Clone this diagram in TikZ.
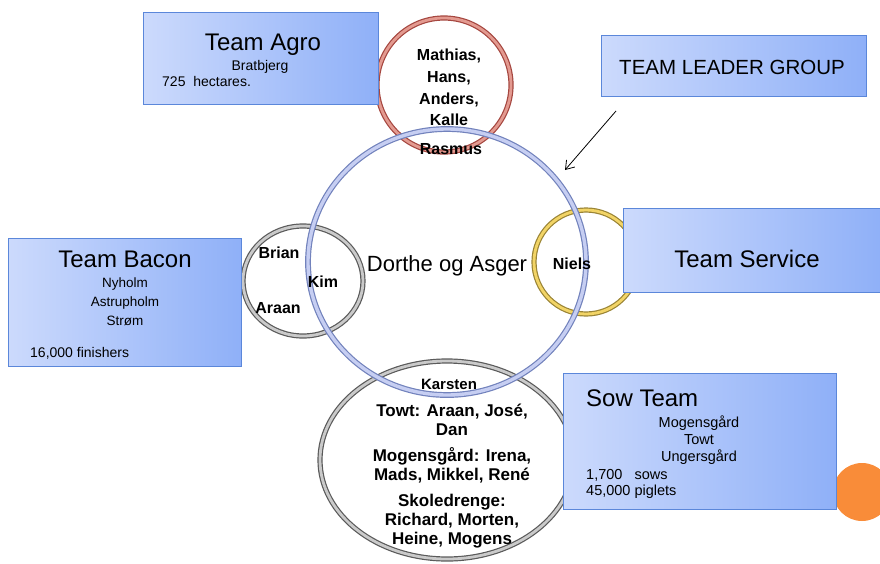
\documentclass[tikz,border=0pt]{standalone}
\usepackage{fontspec}
\setmainfont{Liberation Sans}
\usetikzlibrary{shapes.geometric,arrows.meta}
\definecolor{boxlight}{HTML}{CCDAFC}
\definecolor{boxdark}{HTML}{8FB0F8}
\definecolor{boxedge}{HTML}{5B87DA}
\definecolor{redouter}{HTML}{A5463F}
\definecolor{redinner}{HTML}{E39A90}
\definecolor{blueouter}{HTML}{7282BC}
\definecolor{blueinner}{HTML}{C6CEF2}
\definecolor{grayouter}{HTML}{5A5A5A}
\definecolor{grayinner}{HTML}{CACACA}
\definecolor{yellowouter}{HTML}{9A8435}
\definecolor{yellowinner}{HTML}{F2D466}
\definecolor{sowdot}{HTML}{F98C39}
\tikzset{
  ring/.style 2 args = {ellipse, draw=#1, double=#2, double distance=2.8pt,
                        line width=1.2pt, inner sep=0pt},
  teambox/.style = {draw=boxedge, line width=0.8pt, left color=boxlight,
                    right color=boxdark, inner sep=0pt},
  title/.style = {font=\fontsize{24}{28}\selectfont, inner sep=0pt},
  small/.style = {font=\fontsize{14}{17}\selectfont, inner sep=0pt, align=center},
  crew/.style = {font=\fontsize{16}{21.7}\selectfont\bfseries, inner sep=0pt, align=center},
  leadarrow/.style = {-{Straight Barb[length=8pt,width=11pt]}, line width=0.8pt}
}
\begin{document}
\begin{tikzpicture}[x=1pt,y=-1pt]
	\useasboundingbox (0,0) rectangle (880,563);
	
	% Rings
	\node[ring={grayouter}{grayinner}, minimum width=120pt, minimum height=110pt] (baconring) at (303,281) {};
	\node[ring={yellowouter}{yellowinner}, minimum size=104pt] (servicering) at (586,262) {};
	\node[ring={redouter}{redinner}, minimum size=134pt] (agroring) at (444,85) {};
	\node[ring={grayouter}{grayinner}, minimum width=254pt, minimum height=198pt] (sowring) at (447,460) {};
	\node[ring={blueouter}{blueinner}, line width=1.2pt, double distance=3.4pt, minimum width=278pt, minimum height=266pt] (corering) at (447,262) {};
	
	% Orange dot
	\node[circle, fill=sowdot, minimum size=58pt, inner sep=0pt] (sowdot) at (862,492) {};
	
	% Boxes
	\node[teambox, minimum width=235pt, minimum height=92pt] (agrobox) at (260.5,58) {};
	\node[teambox, minimum width=265pt, minimum height=61pt] (leadbox) at (733.5,65.5) {};
	\node[teambox, minimum width=233pt, minimum height=128pt] (baconbox) at (124.5,302) {};
	\node[teambox, minimum width=259pt, minimum height=84pt] (servicebox) at (752.5,250) {};
	\node[teambox, minimum width=273pt, minimum height=136pt] (sowbox) at (699.5,441) {};
	
	% Box texts
	\node[title, anchor=base] (agrotitle) at (263,50) {Team Agro};
	\node[small, anchor=base] (agrofarm) at (260,70) {Bratbjerg};
	\node[small, anchor=base west] (agroarea) at (162,86) {725~~hectares.};
	\node[font=\fontsize{20.5}{24}\selectfont, inner sep=0pt, anchor=base] (leadtitle) at (732,74) {TEAM LEADER GROUP};
	\node[title, anchor=base] (bacontitle) at (125,267) {Team Bacon};
	\node[small, font=\fontsize{13.5}{19}\selectfont] (baconfarms) at (125,302) {Nyholm\\Astrupholm\\Strøm};
	\node[small, anchor=base west] (baconcount) at (30,357) {16,000 finishers};
	\node[title, anchor=base] (servicetitle) at (747,267) {Team Service};
	\node[title, anchor=base west] (sowtitle) at (586,406) {Sow Team};
	\node[small, font=\fontsize{14.5}{17}\selectfont] (sowfarms) at (699,440) {Mogensgård\\Towt\\Ungersgård};
	\node[small, font=\fontsize{14.5}{17}\selectfont, anchor=base west] (sowcount) at (586,479) {1,700~~~sows};
	\node[small, font=\fontsize{14.5}{17}\selectfont, anchor=base west] (sowpiglets) at (586,495) {45,000 piglets};
	
	% Ring texts
	\node[font=\fontsize{22}{26}\selectfont, inner sep=0pt, anchor=base] (leaders) at (447,271) {Dorthe og Asger};
	\node[crew] (agronames) at (449,87.5) {Mathias,\\Hans,\\Anders,\\Kalle};
	\node[crew, anchor=base] (rasmus) at (451,154) {Rasmus};
	\node[crew, anchor=base] (brian) at (279,258) {Brian};
	\node[crew, anchor=base] (kim) at (323,287) {Kim};
	\node[crew, anchor=base] (araan) at (278,313) {Araan};
	\node[crew, anchor=base] (niels) at (572,269) {Niels};
	\node[crew, font=\fontsize{15}{18}\selectfont\bfseries, anchor=base] (karsten) at (449,389) {Karsten};
	\node[crew, font=\fontsize{17}{19}\selectfont\bfseries] (sownames) at (452,476) {Towt: Araan, José,\\Dan\\[7pt]Mogensgård: Irena,\\Mads, Mikkel, René\\[7pt]Skoledrenge:\\Richard, Morten,\\Heine, Mogens};
	
	% Arrow
	\coordinate (leadtail) at (616,111);
	\coordinate (leadtip) at (565,170);
	\draw[leadarrow] (leadtail) -- (leadtip);
	
\end{tikzpicture}
\end{document}
